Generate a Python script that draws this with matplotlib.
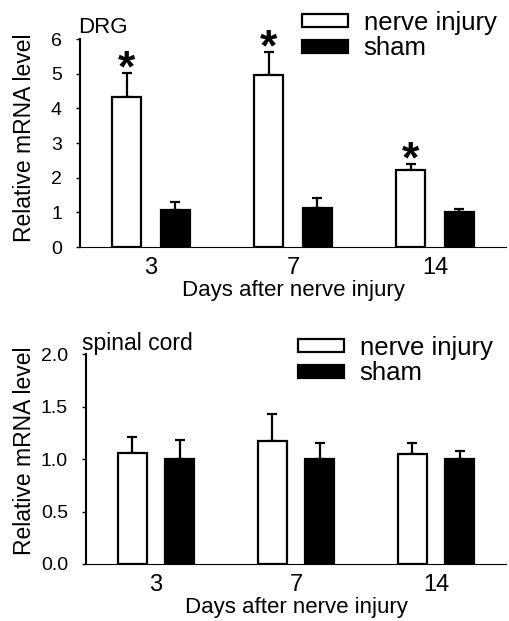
import matplotlib
matplotlib.use("Agg")
import matplotlib.pyplot as plt
import numpy as np

plt.rcParams['font.family'] = ['Liberation Sans', 'DejaVu Sans']

days = ["3", "7", "14"]
series = ["nerve injury", "sham"]

drg_injury = [4.33, 4.96, 2.22]
drg_injury_err = [0.70, 0.67, 0.17]
drg_sham = [1.06, 1.12, 1.00]
drg_sham_err = [0.25, 0.29, 0.09]
drg_sig = [True, True, True]

sc_injury = [1.06, 1.17, 1.05]
sc_injury_err = [0.15, 0.26, 0.10]
sc_sham = [1.00, 1.00, 1.00]
sc_sham_err = [0.18, 0.15, 0.08]

W, H = 509, 621
fig = plt.figure(figsize=(W / 100, H / 100), dpi=100)

def px_axes(left, top, right, bottom):
    return fig.add_axes([left / W, 1 - bottom / H, (right - left) / W, (bottom - top) / H])

def panel(ax, inj, inj_err, sham, sham_err, ylim, yticks, yticklabels, sig=None,
          legend_anchor=None, ylabel_coords=(-0.1, 0.5)):
    x = np.arange(len(days))
    off = 0.17
    bw = 0.205
    ax.bar(x - off, inj, bw, color='white', edgecolor='black', linewidth=1.6, label=series[0], zorder=2)
    ax.bar(x + off, sham, bw, color='black', edgecolor='black', linewidth=1.6, label=series[1], zorder=2)
    ax.errorbar(x - off, inj, yerr=[np.zeros(len(inj)), inj_err], fmt='none', ecolor='black',
                elinewidth=1.6, capsize=3.5, capthick=1.6, zorder=1)
    ax.errorbar(x + off, sham, yerr=[np.zeros(len(sham)), sham_err], fmt='none', ecolor='black',
                elinewidth=1.6, capsize=3.5, capthick=1.6, zorder=1)
    if sig is not None:
        for i, s in enumerate(sig):
            if s:
                ax.annotate('*', xy=(x[i] - off, inj[i] + inj_err[i]), xytext=(0, -6),
                            textcoords='offset points', ha='center', va='baseline',
                            fontsize=32, fontweight='bold')
    ax.set_xlim(-0.5, len(days) - 0.5)
    ax.set_ylim(*ylim)
    ax.set_yticks(yticks)
    ax.set_yticklabels(yticklabels)
    ax.set_xticks(x)
    ax.set_xticklabels(days)
    ax.tick_params(axis='x', length=0, labelsize=17, pad=7)
    ax.tick_params(axis='y', direction='out', length=3, width=1, labelsize=14, pad=10)
    for s in ['top', 'right']:
        ax.spines[s].set_visible(False)
    ax.spines['left'].set_linewidth(1.5)
    ax.spines['bottom'].set_linewidth(0.8)
    ax.set_ylabel('Relative mRNA level', fontsize=16.5)
    ax.yaxis.set_label_coords(*ylabel_coords)
    ax.set_xlabel('Days after nerve injury', fontsize=16, labelpad=1)
    ax.legend(loc='upper left', bbox_to_anchor=legend_anchor, bbox_transform=fig.transFigure,
              frameon=False, fontsize=18.5, handlelength=1.8, handleheight=0.4,
              handletextpad=0.6, labelspacing=0.05, borderpad=0, borderaxespad=0)

ax1 = px_axes(80, 39, 506, 247)
panel(ax1, drg_injury, drg_injury_err, drg_sham, drg_sham_err, (0, 6), np.arange(0, 7, 1),
      [str(v) for v in range(0, 7)], sig=drg_sig,
      legend_anchor=(302 / W, 1 - 11 / H),
      ylabel_coords=((36 - 80) / 426, (247 - 138) / 208))
fig.text(78 / W, 1 - 33 / H, 'DRG', fontsize=16, ha='left', va='baseline')

ax2 = px_axes(86, 354.3, 506, 564)
panel(ax2, sc_injury, sc_injury_err, sc_sham, sc_sham_err, (0, 2.0), np.arange(0, 2.01, 0.5),
      ['%.1f' % v for v in np.arange(0, 2.01, 0.5)],
      legend_anchor=(298 / W, 1 - 336 / H),
      ylabel_coords=((36 - 86) / 420, (564 - 451) / 209.7))
fig.text(82 / W, 1 - 350 / H, 'spinal cord', fontsize=16.5, ha='left', va='baseline')

fig.savefig('out.png', dpi=100)
